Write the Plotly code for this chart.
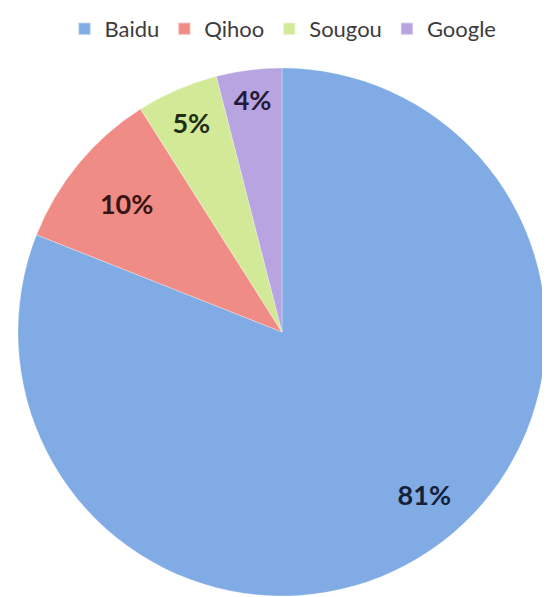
import plotly.graph_objects as go

labels = ["Baidu", "Qihoo", "Sougou", "Google"]
values = [81, 10, 5, 4]
text_labels = ["81%", "10%", "5%", "4%"]
colors = ["#80abe4", "#f08c86", "#d2ea98", "#b9a4e2"]
text_colors = ["#15213a", "#3a1515", "#1f2e14", "#241b38"]

# small slices labelled inside the main pie; the large one via an inner transparent pie's outside label
big = max(values)
main_text = ["" if v == big else t for v, t in zip(values, text_labels)]
ring_text = [t if v == big else "" for v, t in zip(values, text_labels)]

W, H = 550, 597
dom = dict(x=[10/W, 538/W], y=[1-588/H, 1-60/H])
inner = dict(x=[83/W, 465/W], y=[1-508/H, 1-126/H])
font = dict(family="Lato", size=27, color=text_colors, weight="bold")

fig = go.Figure()
fig.add_trace(go.Pie(
    labels=labels,
    values=values,
    text=main_text,
    textinfo="text",
    textposition="inside",
    insidetextorientation="horizontal",
    sort=False,
    direction="clockwise",
    rotation=0,
    marker=dict(colors=colors, line=dict(color="rgba(255,255,255,0.3)", width=1)),
    textfont=font,
    domain=dom,
    hoverinfo="label+percent",
))
fig.add_trace(go.Pie(
    labels=labels,
    values=values,
    text=ring_text,
    textinfo="text",
    textposition="outside",
    sort=False,
    direction="clockwise",
    rotation=0,
    marker=dict(colors=["rgba(0,0,0,0)"] * len(values), line=dict(width=0)),
    outsidetextfont=font,
    domain=inner,
    hoverinfo="skip",
    showlegend=False,
))

fig.update_layout(
    width=W, height=H,
    margin=dict(l=0, r=0, t=0, b=0),
    paper_bgcolor="white",
    plot_bgcolor="white",
    showlegend=True,
    legend=dict(
        orientation="h",
        x=0.5, xanchor="center",
        y=1.0, yanchor="top",
        font=dict(family="Lato", size=22, color="#3c3c3c"),
        itemsizing="constant",
        traceorder="normal",
    ),
)

fig.write_html("out.html")
